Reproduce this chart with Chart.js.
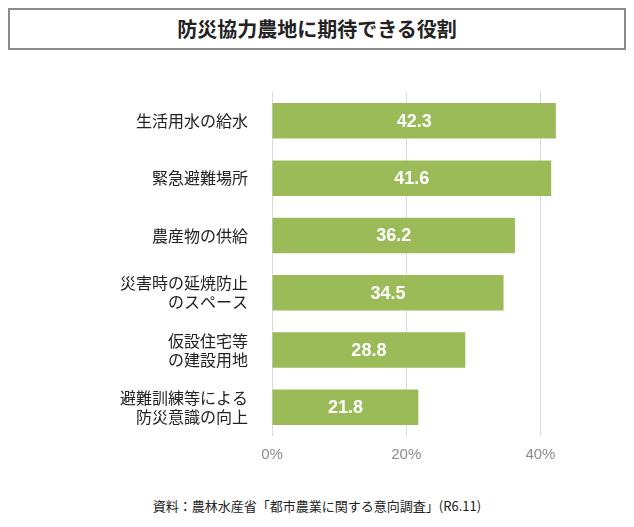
<!DOCTYPE html>
<html><head><meta charset="utf-8">
<script src="https://cdn.jsdelivr.net/npm/chart.js@4"></script>
<style>
body{margin:0;width:634px;height:527px;background:#fff;font-family:"Noto Sans CJK JP",sans-serif;position:relative;overflow:hidden}
#title{position:absolute;left:8px;top:8px;width:614px;height:38px;border:2px solid #8c8c8c;text-align:center;line-height:38px;font-size:20px;font-weight:bold;color:#222}
#wrap{position:absolute;left:0;top:57px;width:634px;height:417px}
#foot{position:absolute;left:0;width:634px;top:496px;text-align:center;font-size:13px;color:#222}
</style></head><body>
<div id="title">防災協力農地に期待できる役割</div>
<div id="wrap"><canvas id="c"></canvas></div>
<div id="foot">資料：農林水産省「都市農業に関する意向調査」(R6.11)</div>
<script>
const categories=[["生活用水の給水"],["緊急避難場所"],["農産物の供給"],["災害時の延焼防止","のスペース"],["仮設住宅等","の建設用地"],["避難訓練等による","防災意識の向上"]];
const values=[42.3,41.6,36.2,34.5,28.8,21.8];
const tickValues=[0,20,40];
const labelPlugin={id:'lbl',afterDatasetsDraw(ch){const ctx=ch.ctx;const m=ch.getDatasetMeta(0);ctx.save();ctx.fillStyle='#fff';ctx.font='bold 18px "Liberation Sans",Arial';ctx.textAlign='center';ctx.textBaseline='middle';
m.data.forEach((b,i)=>{ctx.fillText(values[i].toFixed(1),(b.base+b.x)/2,b.y+1);});ctx.restore();}};
new Chart(document.getElementById('c'),{type:'bar',
data:{labels:categories,datasets:[{data:values,backgroundColor:'#9bbb59',barPercentage:0.62,categoryPercentage:1}]},
options:{indexAxis:'y',responsive:true,maintainAspectRatio:false,animation:false,
layout:{padding:{left:0,right:60,top:0,bottom:0}},
plugins:{legend:{display:false},tooltip:{enabled:false}},
scales:{x:{min:0,max:45,afterBuildTicks(a){a.ticks=tickValues.map(v=>({value:v}));},
ticks:{callback:v=>v+'%',color:'#8c8c8c',font:{size:15,family:'"Liberation Sans",Arial'},padding:10},
grid:{color:'#d9d9d9',drawTicks:false},border:{display:false}},
y:{ticks:{color:'#222',font:{size:16,family:'"Noto Sans CJK JP"'},padding:16,crossAlign:'near'},grid:{display:false},border:{display:false},afterFit(s){s.width=272;}}}},
plugins:[labelPlugin]});
</script></body></html>
